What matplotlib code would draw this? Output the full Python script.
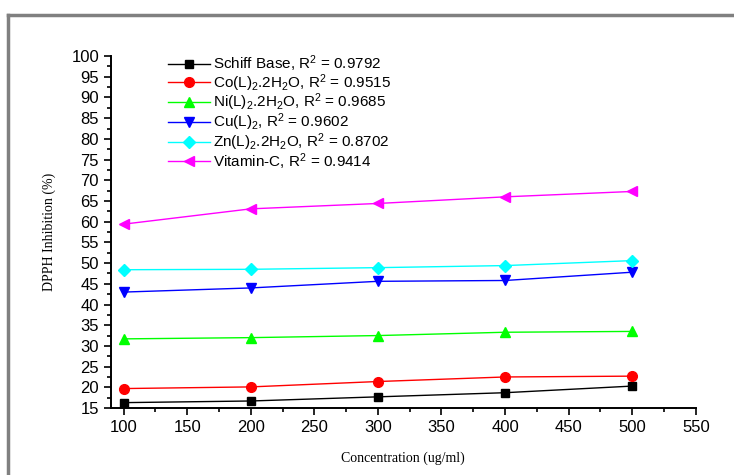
import matplotlib

matplotlib.use("Agg")

import matplotlib.pyplot as plt  # noqa: E402
from matplotlib.lines import Line2D  # noqa: E402
from matplotlib.ticker import MultipleLocator  # noqa: E402

plt.rcParams["font.family"] = "Liberation Sans"
plt.rcParams["mathtext.fontset"] = "custom"
plt.rcParams["mathtext.rm"] = "Liberation Sans"
plt.rcParams["mathtext.it"] = "Liberation Sans:italic"

concentration = [100, 200, 300, 400, 500]

schiff_base = [16.3, 16.7, 17.7, 18.7, 20.3]
co_complex = [19.7, 20.1, 21.4, 22.5, 22.7]
ni_complex = [31.7, 32.0, 32.5, 33.3, 33.5]
cu_complex = [43.0, 44.0, 45.6, 45.8, 47.8]
zn_complex = [48.4, 48.5, 48.9, 49.4, 50.6]
vitamin_c = [59.4, 63.1, 64.4, 66.0, 67.3]

labels = [
    "Schiff Base, R$^2$ = 0.9792",
    "Co(L)$_2$.2H$_2$O, R$^2$ = 0.9515",
    "Ni(L)$_2$.2H$_2$O, R$^2$ = 0.9685",
    "Cu(L)$_2$, R$^2$ = 0.9602",
    "Zn(L)$_2$.2H$_2$O, R$^2$ = 0.8702",
    "Vitamin-C, R$^2$ = 0.9414",
]

series = [schiff_base, co_complex, ni_complex, cu_complex, zn_complex, vitamin_c]
colors = ["#000000", "#ff0000", "#00ff00", "#0000ff", "#00ffff", "#ff00ff"]
markers = ["s", "o", "^", "v", "D", "<"]
sizes = [6, 7, 7.5, 7.5, 6, 7.5]

fig = plt.figure(figsize=(7.34, 4.75), dpi=100)
ax = fig.add_axes([0.151, 0.141, 0.797, 0.741])

for vals, lab, col, mk, ms in zip(series, labels, colors, markers, sizes):
    ax.plot(concentration, vals, color=col, marker=mk, markersize=ms,
            linewidth=1.0, label=lab, markeredgecolor=col)

ax.set_xlim(90, 550)
ax.set_ylim(15, 100)
ax.xaxis.set_major_locator(MultipleLocator(50))
ax.xaxis.set_minor_locator(MultipleLocator(25))
ax.yaxis.set_major_locator(MultipleLocator(5))
ax.yaxis.set_minor_locator(MultipleLocator(2.5))
ax.tick_params(which="both", direction="out", width=1.2, labelsize=12)
ax.tick_params(which="major", length=5)
ax.tick_params(which="minor", length=3)
ax.spines["top"].set_visible(False)
ax.spines["right"].set_visible(False)
for side in ("left", "bottom"):
    ax.spines[side].set_linewidth(1.4)

ax.set_xlabel("Concentration (ug/ml)", family="Liberation Serif", fontsize=10,
              labelpad=12)
ax.set_ylabel("DPPH Inhibition (%)", family="Liberation Serif", fontsize=10,
              labelpad=11)

ax.legend(loc="upper left", bbox_to_anchor=(0.088, 1.025), frameon=False,
          fontsize=11, handlelength=2.7, labelspacing=-0.12, handletextpad=0.2,
          borderaxespad=0)

# gray frame along the top and left edges
fig.add_artist(Line2D([0.011, 1.0], [0.969, 0.969], color="#808080",
                      linewidth=2.5, transform=fig.transFigure))
fig.add_artist(Line2D([0.011, 0.011], [0.0, 0.969], color="#808080",
                      linewidth=2.5, transform=fig.transFigure))

fig.savefig("out.png", dpi=100)
